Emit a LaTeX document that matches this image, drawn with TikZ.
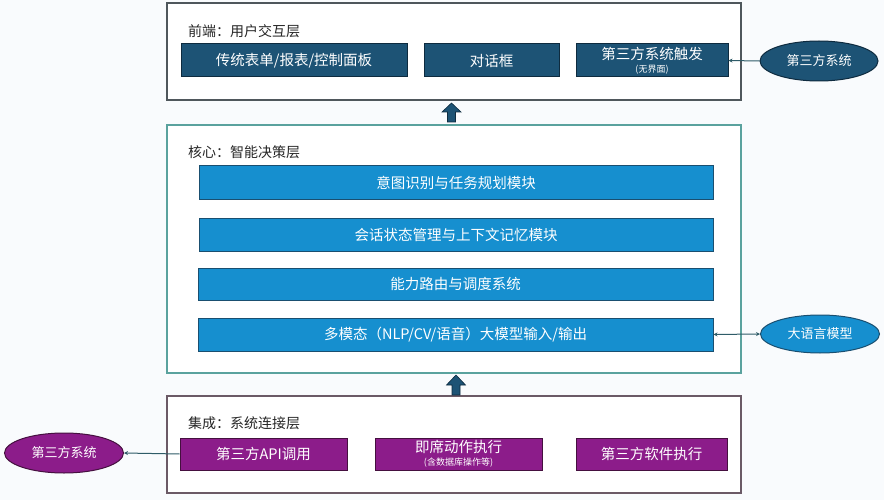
\documentclass[tikz,border=0pt]{standalone}
\usepackage{fontspec}
\newfontfamily\cjk{Noto Sans CJK SC}
\usetikzlibrary{arrows.meta,shapes.geometric}
\definecolor{bgc}{HTML}{F9FBFD}
\definecolor{topfill}{HTML}{1D5375}
\definecolor{topline}{HTML}{0E2B3F}
\definecolor{midfill}{HTML}{168FCF}
\definecolor{midline}{HTML}{1A4F70}
\definecolor{botfill}{HTML}{8C1C8A}
\definecolor{botline}{HTML}{45103F}
\definecolor{laytop}{HTML}{4F575C}
\definecolor{laymid}{HTML}{5AA29E}
\definecolor{laybot}{HTML}{6B5A66}
\definecolor{conc}{HTML}{2F5C68}
\tikzset{
  layer/.style={draw, line width=1.1pt, fill=white},
  ltitle/.style={anchor=west, inner sep=0pt, font=\cjk\fontsize{14}{16}\selectfont, text=black!85},
  box/.style={draw, line width=1pt, inner sep=0pt, text=white, align=center,
    font=\cjk\fontsize{14.5}{16}\selectfont},
  topbox/.style={box, fill=topfill, draw=topline},
  midbox/.style={box, fill=midfill, draw=midline},
  botbox/.style={box, fill=botfill, draw=botline},
  oval/.style={ellipse, draw, line width=1pt, inner sep=0pt, text=white,
    font=\cjk\fontsize{13}{14}\selectfont},
  conn/.style={draw=conc, line width=1pt, arrows={-Stealth[length=4pt,width=4pt]}},
  conn2/.style={draw=conc, line width=1pt, arrows={Stealth[length=4pt,width=4pt]-Stealth[length=4pt,width=4pt]}},
  blockarrow/.style={fill=topfill, draw=topline, line width=0.6pt},
}
\newcommand{\subt}[1]{{\fontsize{9}{10}\selectfont #1}}
\begin{document}
\begin{tikzpicture}[x=1pt,y=-1pt]
\fill[bgc] (0,0) rectangle (884,500);
\useasboundingbox (0,0) rectangle (884,500);

% layers
\draw[layer, draw=laytop] (167,3) rectangle (741,100);
\draw[layer, draw=laymid] (167,125) rectangle (741,373);
\draw[layer, draw=laybot] (167,396) rectangle (741,493);

\node[ltitle] (t1) at (188,31) {前端：用户交互层};
\node[ltitle] (t2) at (188,152) {核心：智能决策层};
\node[ltitle] (t3) at (188,423) {集成：系统连接层};

% top boxes
\node[topbox, minimum width=226pt, minimum height=33pt] (a1) at (294,60.5) {传统表单/报表/控制面板};
\node[topbox, minimum width=135pt, minimum height=33pt] (a2) at (491.5,60.5) {对话框};
\node[topbox, minimum width=152pt, minimum height=33pt] (a3) at (652,60.5) {第三方系统触发\\[-3pt]\subt{(无界面)}};
\node[oval, fill=topfill, draw=topline, minimum width=118pt, minimum height=40pt] (e1) at (819,61) {第三方系统};

% middle bars
\node[midbox, minimum width=514pt, minimum height=34pt] (m1) at (456,183) {意图识别与任务规划模块};
\node[midbox, minimum width=514pt, minimum height=33pt] (m2) at (456,234.5) {会话状态管理与上下文记忆模块};
\node[midbox, minimum width=515pt, minimum height=32pt] (m3) at (455.5,284) {能力路由与调度系统};
\node[midbox, minimum width=515pt, minimum height=33pt] (m4) at (455.5,334.5) {多模态（NLP/CV/语音）大模型输入/输出};
\node[oval, fill=midfill, draw=midline, minimum width=119pt, minimum height=38pt] (e2) at (820,334) {大语言模型};

% bottom boxes
\node[botbox, minimum width=167pt, minimum height=32pt] (c1) at (263.5,454) {第三方API调用};
\node[botbox, minimum width=167pt, minimum height=32pt] (c2) at (458.5,454) {即席动作执行\\[-3pt]\subt{(含数据库操作等)}};
\node[botbox, minimum width=151pt, minimum height=32pt] (c3) at (651.5,454) {第三方软件执行};
\node[oval, fill=botfill, draw=botline, minimum width=119pt, minimum height=40pt] (e3) at (64,453) {第三方系统};

% connectors
\draw[conn] (e1.west) -- (a3.east);
\draw[conn2] (m4.east) -- (e2.west);
\draw[conn] (c1.west) -- (e3.east);

% block arrows between layers
\draw[blockarrow] (447.5,122) -- (447.5,112) -- (442,112) -- (451.5,103) -- (461,112) -- (455.5,112) -- (455.5,122) -- cycle;
\draw[blockarrow] (452,395) -- (452,385) -- (446.5,385) -- (456,375) -- (465.5,385) -- (460,385) -- (460,395) -- cycle;
\end{tikzpicture}
\end{document}
